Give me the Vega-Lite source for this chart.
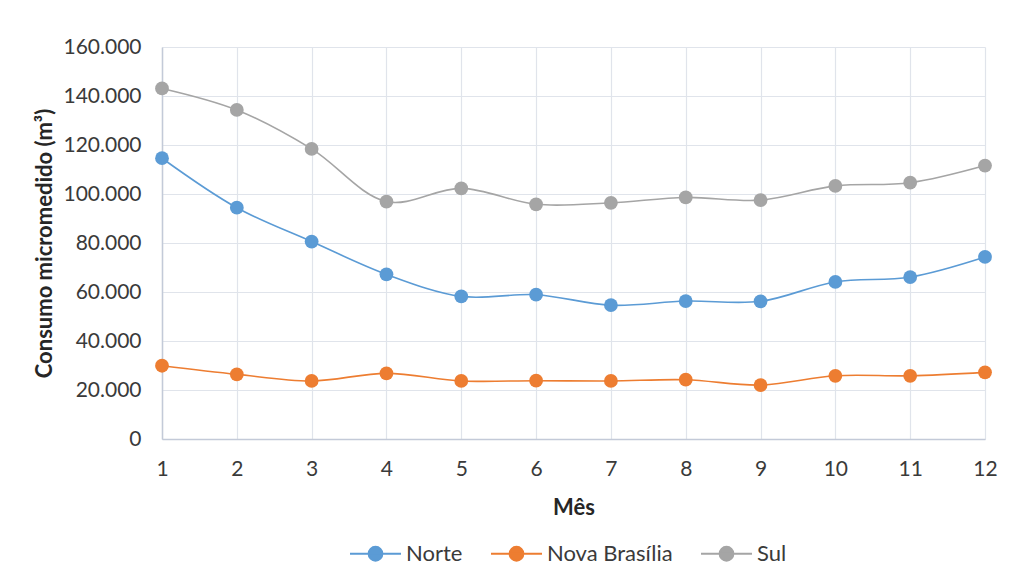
{
  "$schema": "https://vega.github.io/schema/vega-lite/v6.json",
  "width": 823,
  "height": 392,
  "autosize": {"type": "none"},
  "padding": {"left": 162, "top": 47, "right": 40, "bottom": 144},
  "background": "white",
  "config": {
    "locale": {"number": {"decimal": ",", "thousands": ".", "grouping": [3], "currency": ["R$", ""]}},
    "font": "Lato",
    "view": {"stroke": null},
    "axis": {
      "domainColor": "#c3cad8",
      "domainWidth": 1.5,
      "gridColor": "#e0e4eb",
      "gridWidth": 1.2,
      "ticks": false,
      "labelFont": "Lato",
      "labelFontSize": 21,
      "labelColor": "#3a3a3a",
      "titleFont": "Lato",
      "titleFontSize": 22,
      "titleFontWeight": "bold",
      "titleColor": "#262626"
    },
    "legend": {
      "padding": 0,
      "labelFont": "Lato",
      "labelFontSize": 22,
      "labelColor": "#3a3a3a"
    }
  },
  "data": {
    "values": [
      {"mes": 1, "regiao": "Norte", "consumo": 114600},
      {"mes": 2, "regiao": "Norte", "consumo": 94400},
      {"mes": 3, "regiao": "Norte", "consumo": 80600},
      {"mes": 4, "regiao": "Norte", "consumo": 67200},
      {"mes": 5, "regiao": "Norte", "consumo": 58200},
      {"mes": 6, "regiao": "Norte", "consumo": 58900},
      {"mes": 7, "regiao": "Norte", "consumo": 54600},
      {"mes": 8, "regiao": "Norte", "consumo": 56300},
      {"mes": 9, "regiao": "Norte", "consumo": 56200},
      {"mes": 10, "regiao": "Norte", "consumo": 64100},
      {"mes": 11, "regiao": "Norte", "consumo": 66100},
      {"mes": 12, "regiao": "Norte", "consumo": 74300},
      {"mes": 1, "regiao": "Nova Brasília", "consumo": 29900},
      {"mes": 2, "regiao": "Nova Brasília", "consumo": 26400},
      {"mes": 3, "regiao": "Nova Brasília", "consumo": 23700},
      {"mes": 4, "regiao": "Nova Brasília", "consumo": 26800},
      {"mes": 5, "regiao": "Nova Brasília", "consumo": 23700},
      {"mes": 6, "regiao": "Nova Brasília", "consumo": 23800},
      {"mes": 7, "regiao": "Nova Brasília", "consumo": 23700},
      {"mes": 8, "regiao": "Nova Brasília", "consumo": 24200},
      {"mes": 9, "regiao": "Nova Brasília", "consumo": 22000},
      {"mes": 10, "regiao": "Nova Brasília", "consumo": 25800},
      {"mes": 11, "regiao": "Nova Brasília", "consumo": 25800},
      {"mes": 12, "regiao": "Nova Brasília", "consumo": 27200},
      {"mes": 1, "regiao": "Sul", "consumo": 143100},
      {"mes": 2, "regiao": "Sul", "consumo": 134300},
      {"mes": 3, "regiao": "Sul", "consumo": 118400},
      {"mes": 4, "regiao": "Sul", "consumo": 96900},
      {"mes": 5, "regiao": "Sul", "consumo": 102300},
      {"mes": 6, "regiao": "Sul", "consumo": 95800},
      {"mes": 7, "regiao": "Sul", "consumo": 96400},
      {"mes": 8, "regiao": "Sul", "consumo": 98600},
      {"mes": 9, "regiao": "Sul", "consumo": 97500},
      {"mes": 10, "regiao": "Sul", "consumo": 103300},
      {"mes": 11, "regiao": "Sul", "consumo": 104600},
      {"mes": 12, "regiao": "Sul", "consumo": 111600}
    ]
  },
  "encoding": {
    "x": {
      "field": "mes",
      "type": "quantitative",
      "scale": {"domain": [1, 12], "nice": false, "zero": false},
      "axis": {
        "values": [1, 2, 3, 4, 5, 6, 7, 8, 9, 10, 11, 12],
        "format": "d",
        "title": "Mês",
        "labelPadding": 19,
        "titlePadding": 18,
        "labelFlush": false
      }
    },
    "y": {
      "field": "consumo",
      "type": "quantitative",
      "scale": {"domain": [0, 160000], "nice": false},
      "axis": {
        "values": [0, 20000, 40000, 60000, 80000, 100000, 120000, 140000, 160000],
        "format": ",d",
        "title": "Consumo micromedido (m³)",
        "labelPadding": 21,
        "titlePadding": 6
      }
    },
    "color": {
      "field": "regiao",
      "type": "nominal",
      "scale": {
        "domain": ["Norte", "Nova Brasília", "Sul"],
        "range": ["#5b9bd5", "#ed7d31", "#a5a5a5"]
      },
      "legend": {
        "title": null,
        "orient": "none",
        "direction": "horizontal",
        "legendX": 187,
        "legendY": 480,
        "symbolType": "M-1,0H1M0.27,0A0.27,0.27,0,1,1,-0.27,0A0.27,0.27,0,1,1,0.27,0Z",
        "symbolSize": 2600,
        "symbolStrokeWidth": 2,
        "labelOffset": 4,
        "columnPadding": 24,
        "encode": {
          "symbols": {
            "update": {
              "fill": {"scale": "color", "field": "value"},
              "stroke": {"scale": "color", "field": "value"},
              "opacity": {"value": 1}
            }
          }
        }
      }
    }
  },
  "layer": [
    {"mark": {"type": "line", "interpolate": "catmull-rom", "strokeWidth": 1.6}},
    {"mark": {"type": "point", "filled": true, "size": 190, "opacity": 1}}
  ]
}
